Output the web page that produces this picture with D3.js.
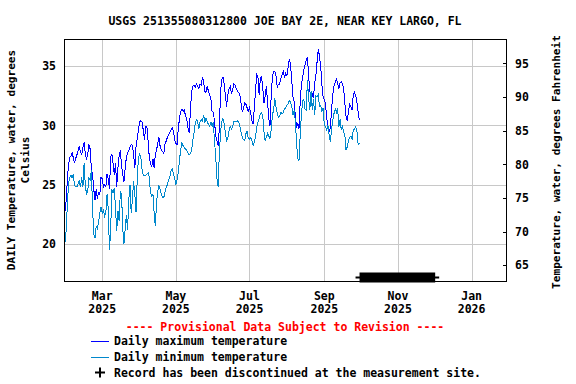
<!DOCTYPE html>
<html lang="en">
<head>
<meta charset="UTF-8">
<script src="https://d3js.org/d3.v7.min.js"></script>
<title>Joe Bay water temperature</title>
<style>
  body { margin: 0; background: #fff; }
  svg text { font-family: "DejaVu Sans Mono", monospace; font-weight: bold; font-size: 11.5px; fill: #000; }
  .grid { stroke: #c8c8c8; stroke-width: 1px; shape-rendering: crispEdges; }
  .frame { fill: none; stroke: #000; stroke-width: 1px; shape-rendering: crispEdges; }
  .series { fill: none; stroke-width: 1px; shape-rendering: crispEdges; }
</style>
</head>
<body>
<div id="chart"></div>
<script>
// daily values in degrees Celsius, one per day from startDay on
var startDay = "2025-01-29";
var dailyMax = [
  22.6, 23.5, 25.2, 26.6, 27.3, 27.4, 27.7, 27.3, 26.8, 27.2, 27.5, 27.9, 28.2, 27.8, 27.5, 28.1,
  28.6, 27.6, 27.1, 27.6, 28.4, 28.0, 26.3, 25.9, 24.6, 23.7, 24.6, 23.8, 24.4, 24.1, 25.6,
  // Mar
  25.5, 24.8, 25.0, 24.8, 25.9, 25.5, 24.6, 27.3, 27.6, 26.8, 25.8, 26.8, 24.8, 26.4, 27.4, 27.9,
  26.6, 25.9, 25.2, 26.4, 27.3, 27.7, 27.9, 28.2, 28.4, 28.3, 27.6, 26.4, 28.2, 28.9, 29.6,
  // Apr
  30.3, 30.4, 30.3, 29.6, 28.8, 29.9, 29.9, 28.7, 27.3, 26.8, 26.5, 27.2, 26.4, 27.6, 27.9,
  28.5, 29.0, 28.2, 27.9, 27.8, 27.6, 28.4, 28.7, 29.0, 29.2, 29.4, 29.6, 29.8, 29.5, 28.8,
  // May
  28.5, 28.4, 29.7, 30.6, 31.2, 31.4, 31.2, 31.3, 30.8, 30.6, 29.8, 29.4, 31.1, 32.8, 33.3, 33.4,
  33.2, 33.5, 33.3, 33.1, 33.5, 33.4, 34.1, 33.7, 32.9, 32.8, 33.3, 32.9, 32.6, 32.3, 31.2,
  // Jun
  31.1, 30.4, 29.1, 28.7, 28.3, 29.7, 32.8, 33.9, 34.1, 33.5, 32.6, 31.6, 32.5, 33.1, 33.3,
  32.7, 33.0, 33.5, 33.4, 33.1, 32.9, 32.8, 32.6, 31.9, 31.2, 31.4, 31.9, 31.8, 31.5, 31.2,
  // Jul
  31.5, 31.1, 30.4, 30.1, 31.5, 32.9, 34.3, 34.1, 32.6, 34.0, 34.1, 33.2, 31.9, 32.5, 33.3, 31.9,
  30.6, 30.0, 32.6, 34.1, 34.6, 34.6, 34.2, 33.2, 33.5, 33.5, 34.0, 34.3, 34.6, 34.1, 34.4,
  // Aug
  34.2, 34.9, 35.6, 35.2, 33.8, 32.4, 32.0, 30.8, 29.8, 30.2, 29.7, 32.0, 33.4, 34.1, 34.7, 35.1,
  35.5, 35.8, 34.2, 32.9, 32.1, 32.7, 32.3, 33.6, 34.2, 35.4, 36.5, 35.8, 35.0, 33.4, 32.4,
  // Sep
  32.2, 31.8, 30.6, 29.9, 29.5, 29.8, 31.4, 32.6, 33.3, 33.6, 33.9, 33.6, 33.1, 33.6, 33.7,
  33.5, 33.1, 31.9, 30.8, 30.4, 31.2, 31.8, 31.6, 31.3, 32.6, 32.8, 32.5, 32.0, 31.1, 30.5
];
var dailyMin = [
  20.0, 21.0, 23.0, 25.0, 25.6, 25.8, 25.6, 25.9, 25.0, 24.8, 24.8, 25.1, 25.3, 24.8, 25.6, 24.8,
  26.8, 24.9, 24.2, 24.4, 25.6, 25.4, 26.2, 23.0, 20.8, 20.5, 21.5, 21.3, 21.8, 22.6, 23.1,
  // Mar
  22.6, 22.8, 22.3, 22.6, 24.2, 22.9, 19.5, 21.2, 24.6, 24.3, 24.7, 23.0, 21.1, 22.8, 21.9, 24.4,
  24.2, 21.3, 20.0, 21.2, 22.4, 21.2, 23.7, 25.0, 22.6, 23.7, 25.3, 24.2, 22.7, 25.5, 27.3,
  // Apr
  27.6, 27.3, 26.3, 25.8, 25.8, 25.8, 25.9, 26.0, 25.6, 24.3, 24.0, 24.2, 22.6, 21.5, 23.5,
  24.4, 24.9, 24.6, 24.2, 23.9, 23.9, 24.4, 24.8, 25.0, 25.4, 25.6, 26.2, 26.3, 25.9, 25.6,
  // May
  25.0, 25.4, 26.0, 27.1, 27.9, 28.5, 28.3, 28.1, 28.0, 27.9, 27.7, 27.5, 27.6, 27.9, 28.7, 29.3,
  30.1, 30.5, 30.4, 29.7, 30.3, 30.5, 30.4, 30.9, 30.2, 30.6, 30.3, 30.1, 29.9, 30.3, 29.9,
  // Jun
  30.3, 28.7, 27.4, 25.5, 24.8, 27.6, 29.4, 30.3, 30.6, 30.2, 29.4, 28.7, 28.9, 29.5, 29.9,
  29.7, 29.9, 30.3, 30.4, 30.3, 30.4, 30.3, 30.0, 29.4, 29.0, 28.8, 28.7, 29.3, 29.5, 28.9,
  // Jul
  28.8, 29.0, 28.7, 28.3, 28.6, 29.1, 29.8, 30.3, 30.6, 31.0, 31.1, 30.8, 29.5, 28.7, 29.0, 29.3,
  29.1, 28.9, 29.7, 30.9, 31.3, 32.3, 31.5, 31.0, 30.7, 30.8, 31.1, 31.0, 31.1, 31.4, 31.5,
  // Aug
  31.7, 31.8, 32.1, 32.0, 31.6, 30.9, 31.3, 30.4, 28.5, 27.2, 27.0, 29.2, 30.9, 32.1, 32.2, 31.4,
  31.3, 33.8, 32.3, 31.3, 32.9, 31.3, 32.2, 30.9, 32.5, 32.4, 32.6, 31.6, 31.7, 31.2, 31.5,
  // Sep
  30.0, 29.9, 29.6, 30.0, 29.2, 28.6, 29.7, 30.4, 31.0, 31.4, 31.1, 31.5, 29.9, 30.5, 29.6,
  30.0, 29.4, 29.2, 27.9, 28.2, 28.7, 29.0, 29.1, 28.8, 29.6, 29.7, 29.9, 29.5, 28.4, 28.5
];
// "+" markers: record discontinued, first and last day
var discontinued = ["2025-10-01", "2025-12-01"];

var monthTicks = ["2025-03-01", "2025-05-01", "2025-07-01", "2025-09-01", "2025-11-01", "2026-01-01"];
var monthLabels = [["Mar", "2025"], ["May", "2025"], ["Jul", "2025"], ["Sep", "2025"], ["Nov", "2025"], ["Jan", "2026"]];
var celsiusTicks = [20, 25, 30, 35];
var fahrenheitTicks = [65, 70, 75, 80, 85, 90, 95];

var W = 576, H = 384;
var plotL = 64, plotR = 506, plotT = 39, plotB = 281;

var parse = d3.timeParse("%Y-%m-%d");
var t0 = parse(startDay);
var maxData = dailyMax.map(function(v, i) { return {date: d3.timeDay.offset(t0, i), value: v}; });
var minData = dailyMin.map(function(v, i) { return {date: d3.timeDay.offset(t0, i), value: v}; });

var svg = d3.select("#chart").append("svg")
    .attr("width", W).attr("height", H);

var x = d3.scaleTime()
    .domain([new Date(2025, 0, 28, 8), new Date(2026, 0, 29, 12)])
    .range([plotL, plotR]);
var yC = d3.scaleLinear().domain([16.85, 37.31]).range([plotB, plotT]);
var yF = d3.scaleLinear().domain([62.67, 98.64]).range([plotB, plotT]);

var px = function(v) { return Math.round(v) + 0.5; };

// grid
svg.append("g").selectAll("line").data(celsiusTicks).enter().append("line")
    .attr("class", "grid")
    .attr("x1", plotL).attr("x2", plotR)
    .attr("y1", function(d) { return px(yC(d)); })
    .attr("y2", function(d) { return px(yC(d)); });
svg.append("g").selectAll("line").data(monthTicks).enter().append("line")
    .attr("class", "grid")
    .attr("y1", plotT).attr("y2", plotB)
    .attr("x1", function(d) { return px(x(parse(d))); })
    .attr("x2", function(d) { return px(x(parse(d))); });

// series
var line = d3.line()
    .x(function(d) { return x(d.date); })
    .y(function(d) { return yC(d.value); });

svg.append("path").datum(maxData)
    .attr("class", "series").attr("stroke", "#0000ff")
    .attr("d", line);
svg.append("path").datum(minData)
    .attr("class", "series").attr("stroke", "#0088cc")
    .attr("d", line);

// frame
svg.append("rect").attr("class", "frame")
    .attr("x", plotL + 0.5).attr("y", plotT + 0.5)
    .attr("width", plotR - plotL).attr("height", plotB - plotT);

// discontinued markers
function plus(cx, cy) {
  return "M" + (cx - 5) + "," + cy + "H" + (cx + 5) + "M" + cx + "," + (cy - 5) + "V" + (cy + 5);
}
var discDays = d3.timeDay.range(parse(discontinued[0]), d3.timeDay.offset(parse(discontinued[1]), 1));
svg.append("path")
    .attr("d", discDays.map(function(d) { return plus(x(d), 277.5); }).join(""))
    .attr("stroke", "#000").attr("stroke-width", 2).attr("fill", "none");

// left axis labels
svg.append("g").selectAll("text").data(celsiusTicks).enter().append("text")
    .attr("x", 56).attr("y", function(d) { return yC(d); })
    .attr("dy", "0.36em").attr("text-anchor", "end")
    .text(function(d) { return d; });

// right axis: inward ticks + labels
svg.append("g").selectAll("line").data(fahrenheitTicks).enter().append("line")
    .attr("x1", plotR - 3).attr("x2", plotR)
    .attr("y1", function(d) { return px(yF(d)); })
    .attr("y2", function(d) { return px(yF(d)); })
    .attr("stroke", "#000").attr("shape-rendering", "crispEdges");
svg.append("g").selectAll("text").data(fahrenheitTicks).enter().append("text")
    .attr("x", 515).attr("y", function(d) { return yF(d); })
    .attr("dy", "0.36em")
    .text(function(d) { return d; });

// bottom labels
var xl = svg.append("g").selectAll("g").data(monthTicks).enter().append("g");
xl.append("text")
    .attr("x", function(d) { return x(parse(d)); }).attr("y", 299.5)
    .attr("text-anchor", "middle")
    .text(function(d, i) { return monthLabels[i][0]; });
xl.append("text")
    .attr("x", function(d) { return x(parse(d)); }).attr("y", 312.5)
    .attr("text-anchor", "middle")
    .text(function(d, i) { return monthLabels[i][1]; });

// titles
svg.append("text").attr("x", 285).attr("y", 24.5).attr("text-anchor", "middle")
    .text("USGS 251355080312800 JOE BAY 2E, NEAR KEY LARGO, FL");

svg.append("text")
    .attr("transform", "translate(15,160) rotate(-90)")
    .attr("text-anchor", "middle").style("font-size", "11.1px")
    .text("DAILY Temperature, water, degrees");
svg.append("text")
    .attr("transform", "translate(29,160) rotate(-90)")
    .attr("text-anchor", "middle").style("font-size", "11.1px")
    .text("Celsius");
svg.append("text")
    .attr("transform", "translate(560,162) rotate(-90)")
    .attr("text-anchor", "middle").style("font-size", "11.1px")
    .text("Temperature, water, degrees Fahrenheit");

// legend
svg.append("text").attr("x", 285).attr("y", 331).attr("text-anchor", "middle")
    .style("fill", "#ff0000")
    .text("---- Provisional Data Subject to Revision ----");

var legend = [
  {label: "Daily maximum temperature", color: "#0000ff", y: 341},
  {label: "Daily minimum temperature", color: "#0088cc", y: 357}
];
legend.forEach(function(l) {
  svg.append("line").attr("x1", 91).attr("x2", 109)
      .attr("y1", l.y + 0.5).attr("y2", l.y + 0.5)
      .attr("stroke", l.color).attr("shape-rendering", "crispEdges");
  svg.append("text").attr("x", 114).attr("y", l.y + 4).text(l.label);
});
svg.append("path").attr("d", plus(100, 372.5))
    .attr("stroke", "#000").attr("stroke-width", 2);
svg.append("text").attr("x", 114).attr("y", 377)
    .text("Record has been discontinued at the measurement site.");
</script>
</body>
</html>
